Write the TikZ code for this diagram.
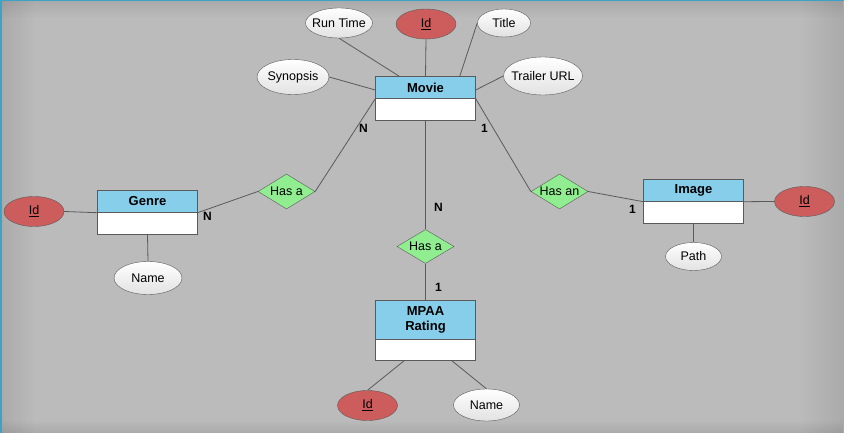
\documentclass[tikz,border=0pt]{standalone}
\usepackage{fontspec}
\setmainfont{Liberation Sans}
\usetikzlibrary{shapes.geometric,calc,fadings}
\definecolor{bgc}{HTML}{BBBBBB}
\definecolor{hdr}{HTML}{87CEEB}
\definecolor{keyc}{HTML}{CD5C5C}
\definecolor{relc}{HTML}{90EE90}
\definecolor{edgec}{HTML}{5A5A5A}
\definecolor{framec}{HTML}{3AA3C8}
\definecolor{attrb}{HTML}{E2E2E2}
\tikzfading[name=fadeR, left color=transparent!0, right color=transparent!100]
\tikzfading[name=fadeL, left color=transparent!100, right color=transparent!0]
\tikzfading[name=fadeD, top color=transparent!0, bottom color=transparent!100]
\tikzfading[name=fadeU, top color=transparent!100, bottom color=transparent!0]
\begin{document}
\begin{tikzpicture}[x=1pt,y=-1pt,
 every node/.style={font=\fontsize{12.5}{14}\selectfont, text=black},
 enthead/.style={draw=edgec, fill=hdr, minimum width=100pt, minimum height=22pt, inner sep=0pt, font=\fontsize{13}{15}\selectfont\bfseries, align=center},
 entbody/.style={draw=edgec, fill=white, minimum width=100pt, minimum height=21.5pt, inner sep=0pt},
 attr/.style={ellipse, draw=edgec, top color=white, bottom color=attrb, inner sep=0pt},
 keyattr/.style={ellipse, draw=edgec, fill=keyc, inner sep=0pt, minimum width=60pt, minimum height=30pt},
 rel/.style={diamond, draw=edgec, fill=relc, inner sep=0pt, minimum width=57pt, minimum height=35pt},
 card/.style={font=\fontsize{12}{14}\selectfont\bfseries},
 conn/.style={draw=edgec, line width=0.8pt},
 shadeband/.style={fill=black, opacity=0.09}]
\useasboundingbox (0,0) rectangle (844,433);
\fill[bgc] (0,0) rectangle (844,433);
\fill[shadeband, path fading=fadeR] (0,0) rectangle (35,433);
\fill[shadeband, path fading=fadeL] (800,0) rectangle (844,433);
\fill[shadeband, path fading=fadeD] (0,0) rectangle (844,18);
\fill[shadeband, path fading=fadeU] (0,420) rectangle (844,433);
\draw[framec, line width=3pt] (0,433) -- (0,0) -- (844,0);

% Movie
\node[enthead] (movie) at (425.5,87.5) {Movie};
\node[entbody] (moviebody) at (425.5,109.25) {};
\node[attr, minimum width=67pt, minimum height=30pt, label={center:Run Time}] (runtime) at (339,23) {};
\node[keyattr, label={center:{\underline{Id}}}] (movieid) at (426,24) {};
\node[attr, minimum width=53pt, minimum height=28pt, label={center:Title}] (title) at (504,23) {};
\node[attr, minimum width=72pt, minimum height=35pt, label={center:Synopsis}] (synopsis) at (293,77) {};
\node[attr, minimum width=79pt, minimum height=38pt, label={center:Trailer URL}] (trailer) at (543,76) {};

\draw[conn] (runtime.south) -- ($(movie.north west)+(24,0)$);
\draw[conn] (movieid.south) -- (movie.north);
\draw[conn] (title.west) -- ($(movie.north east)+(-16,0)$);
\draw[conn] (synopsis.east) -- ($(movie.west)+(0,2.5)$);
\draw[conn] (trailer.west) -- ($(movie.east)+(0,2.5)$);

% Genre
\node[enthead] (genre) at (147.5,201.5) {Genre};
\node[entbody] (genrebody) at (147.5,223.25) {};
\node[keyattr, label={center:{\underline{Id}}}] (genreid) at (34,211.5) {};
\node[attr, minimum width=68pt, minimum height=33pt, label={center:Name}] (genrename) at (148,278) {};
\node[rel, label={center:Has a}] (hasa1) at (286.5,191.5) {};
\draw[conn] (genreid.east) -- (genre.south west);
\draw[conn] (genrebody.south) -- (genrename.north);
\draw[conn] (genre.south east) -- (hasa1.west);
\draw[conn] (hasa1.east) -- (movie.south west);
\node[card] (cn1) at (363.5,128) {N};
\node[card] (cn2) at (207.5,216.5) {N};

% Image
\node[enthead] (image) at (693.5,190.5) {Image};
\node[entbody] (imagebody) at (693.5,212.25) {};
\node[keyattr, label={center:{\underline{Id}}}] (imageid) at (804.5,201.5) {};
\node[attr, minimum width=56pt, minimum height=28pt, label={center:Path}] (path) at (693.5,256.5) {};
\node[rel, label={center:Has an}] (hasan) at (559.5,191.5) {};
\draw[conn] (movie.south east) -- (hasan.west);
\draw[conn] (hasan.east) -- (image.south west);
\draw[conn] (image.south east) -- (imageid.west);
\draw[conn] (imagebody.south) -- (path.north);
\node[card] (c11) at (484.5,128) {1};
\node[card] (c12) at (632.5,209) {1};

% MPAA Rating
\node[rel, minimum height=34pt, label={center:Has a}] (hasa2) at (425.5,246.5) {};
\node[enthead, minimum height=38.5pt] (mpaa) at (425.5,319.5) {MPAA\\Rating};
\node[entbody] (mpaabody) at (425.5,349.5) {};
\node[keyattr, label={center:{\underline{Id}}}] (mpaaid) at (367.5,405.5) {};
\node[attr, minimum width=66pt, minimum height=32pt, label={center:Name}] (mpaaname) at (486.5,405) {};
\draw[conn] (moviebody.south) -- (hasa2.north);
\draw[conn] (hasa2.south) -- (mpaa.north);
\draw[conn] ($(mpaabody.south)+(-21,0)$) -- (mpaaid.north);
\draw[conn] ($(mpaabody.south)+(26,0)$) -- (mpaaname.north);
\node[card] (cn3) at (438.5,207) {N};
\node[card] (c13) at (438.5,287.5) {1};
\end{tikzpicture}
\end{document}
